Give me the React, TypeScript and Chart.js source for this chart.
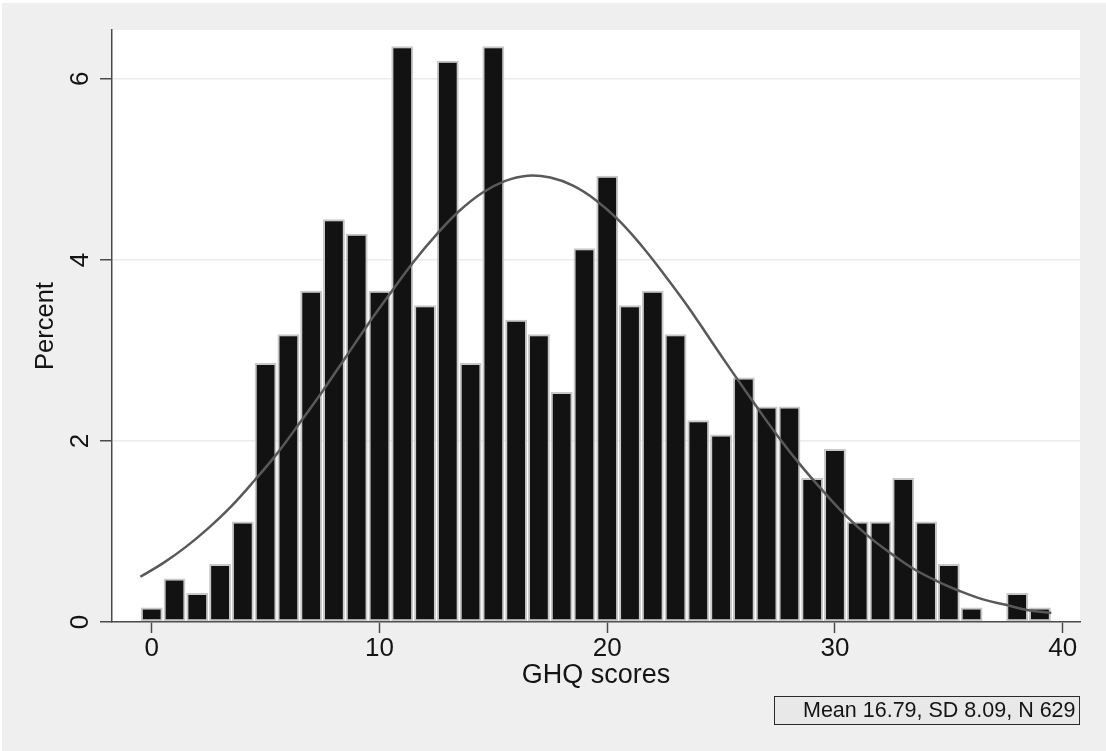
import React, { useEffect, useRef } from 'react';
import { Chart, registerables } from 'chart.js';

Chart.register(...registerables);

// Histogram bins (GHQ score, width 1) and their percentages
const binCenters = [0, 1, 2, 3, 4, 5, 6, 7, 8, 9, 10, 11, 12, 13, 14, 15, 16, 17, 18, 19, 20, 21, 22, 23, 24, 25, 26, 27, 28, 29, 30, 31, 32, 33, 34, 35, 36, 37, 38, 39];
const percents = [0.16, 0.48, 0.32, 0.64, 1.11, 2.86, 3.18, 3.66, 4.45, 4.29, 3.66, 6.36, 3.50, 6.20, 2.86, 6.36, 3.34, 3.18, 2.54, 4.13, 4.93, 3.50, 3.66, 3.18, 2.23, 2.07, 2.70, 2.38, 2.38, 1.59, 1.91, 1.11, 1.11, 1.59, 1.11, 0.64, 0.16, 0, 0.32, 0.16];

// Normal density overlay
const curveX = [-0.5, 0.5, 1.5, 2.5, 3.5, 4.5, 5.5, 6.5, 7.5, 8.5, 9.5, 10.5, 11.5, 12.5, 13.5, 14.5, 15.5, 16.5, 17.5, 18.5, 19.5, 20.5, 21.5, 22.5, 23.5, 24.5, 25.5, 26.5, 27.5, 28.5, 29.5, 30.5, 31.5, 32.5, 33.5, 34.5, 35.5, 36.5, 37.5, 38.5, 39.5];
const curveY = [0.50, 0.65, 0.83, 1.04, 1.28, 1.56, 1.86, 2.20, 2.55, 2.92, 3.29, 3.64, 3.98, 4.28, 4.54, 4.74, 4.87, 4.93, 4.91, 4.82, 4.66, 4.44, 4.16, 3.84, 3.50, 3.13, 2.76, 2.40, 2.05, 1.73, 1.44, 1.17, 0.94, 0.75, 0.58, 0.45, 0.34, 0.25, 0.19, 0.13, 0.10];

const xTicks = [0, 10, 20, 30, 40];
const yTicks = [0, 2, 4, 6];
const xTitle = 'GHQ scores';
const yTitle = 'Percent';
const noteText = 'Mean 16.79, SD 8.09, N 629';

const FONT = '"Liberation Sans", Arial, Helvetica, sans-serif';
const TEXT = '#141414';

const decorPlugin = {
  id: 'decor',
  beforeDraw(chart: any) {
    const { ctx, width, height, chartArea } = chart;
    ctx.save();
    ctx.fillStyle = '#ffffff';
    ctx.fillRect(0, 0, width, height);
    ctx.fillStyle = '#efefef';
    ctx.fillRect(2, 3, width - 2, height - 3);
    ctx.fillStyle = '#ffffff';
    ctx.fillRect(chartArea.left, chartArea.top, chartArea.right - chartArea.left, chartArea.bottom - chartArea.top);
    ctx.restore();
  },
  afterDraw(chart: any) {
    const { ctx, chartArea } = chart;
    const ys = chart.scales.y;
    ctx.save();
    ctx.fillStyle = TEXT;
    ctx.font = `26px ${FONT}`;
    ctx.textAlign = 'center';
    ctx.textBaseline = 'middle';
    yTicks.forEach((v) => {
      const py = ys.getPixelForValue(v);
      ctx.save();
      ctx.translate(chartArea.left - 32, py);
      ctx.rotate(-Math.PI / 2);
      ctx.fillText(String(v), 0, 1);
      ctx.restore();
    });
    // note box
    const bx = 774.5, by = 696.5, bw = 305, bh = 28;
    ctx.fillStyle = '#e8e8e8';
    ctx.fillRect(bx, by, bw, bh);
    ctx.strokeStyle = '#2a2a2a';
    ctx.lineWidth = 1;
    ctx.strokeRect(bx, by, bw, bh);
    ctx.fillStyle = TEXT;
    ctx.font = `21.5px ${FONT}`;
    ctx.textAlign = 'right';
    ctx.textBaseline = 'middle';
    ctx.fillText(noteText, bx + bw - 4, by + bh / 2 + 1);
    ctx.restore();
  },
};

export default function App() {
  const ref = useRef<HTMLCanvasElement | null>(null);

  useEffect(() => {
    if (!ref.current) return;
    const chart = new Chart(ref.current, {
      type: 'bar',
      data: {
        datasets: [
          {
            type: 'line',
            data: curveX.map((x, i) => ({ x, y: curveY[i] })),
            borderColor: '#595959',
            borderWidth: 2.5,
            pointRadius: 0,
            fill: false,
            tension: 0.4,
            order: 0,
          } as any,
          {
            type: 'bar',
            data: binCenters.map((x, i) => ({ x, y: percents[i] })),
            backgroundColor: '#121212',
            borderColor: '#c8c8c8',
            borderWidth: 2,
            borderSkipped: false,
            barPercentage: 1,
            categoryPercentage: 0.96,
            order: 1,
          } as any,
        ],
      },
      options: {
        responsive: false,
        animation: false,
        layout: { padding: { left: 2, top: 30, right: 26, bottom: 59 } },
        plugins: {
          legend: { display: false },
          tooltip: { enabled: false },
        },
        scales: {
          x: {
            type: 'linear',
            min: -1.745,
            max: 40.76,
            offset: false,
            afterBuildTicks: (s: any) => {
              s.ticks = xTicks.map((v) => ({ value: v }));
            },
            afterFit: (s: any) => {
              s.height = 70;
            },
            ticks: {
              font: { size: 26, family: FONT },
              color: TEXT,
              padding: 0,
              maxRotation: 0,
              autoSkip: false,
              callback: (v: any) => String(v),
            },
            grid: {
              offset: false,
              drawOnChartArea: false,
              tickLength: 11,
              tickColor: '#4a4a4a',
              tickWidth: 1.5,
            },
            border: { color: '#4a4a4a', width: 1.5 },
            title: {
              display: true,
              text: xTitle,
              font: { size: 27, family: FONT },
              color: TEXT,
              padding: { top: 0, bottom: 0 },
            },
          } as any,
          y: {
            type: 'linear',
            min: 0,
            max: 6.54,
            afterBuildTicks: (s: any) => {
              s.ticks = yTicks.map((v) => ({ value: v }));
            },
            afterFit: (s: any) => {
              s.width = 110;
            },
            ticks: { display: false },
            grid: {
              color: '#ebebeb',
              lineWidth: 1.5,
              tickLength: 12,
              tickColor: '#4a4a4a',
              tickWidth: 1.5,
            },
            border: { color: '#4a4a4a', width: 1.5 },
            title: {
              display: true,
              text: yTitle,
              font: { size: 25.5, family: FONT },
              color: TEXT,
              padding: { top: 28.8, bottom: 0 },
            },
          } as any,
        },
      },
      plugins: [decorPlugin],
    });
    return () => chart.destroy();
  }, []);

  return (
    <div style={{ position: 'absolute', left: 0, top: 0, width: 1106, height: 751 }}>
      <canvas ref={ref} width={1106} height={751} style={{ display: 'block', width: 1106, height: 751 }} />
    </div>
  );
}
